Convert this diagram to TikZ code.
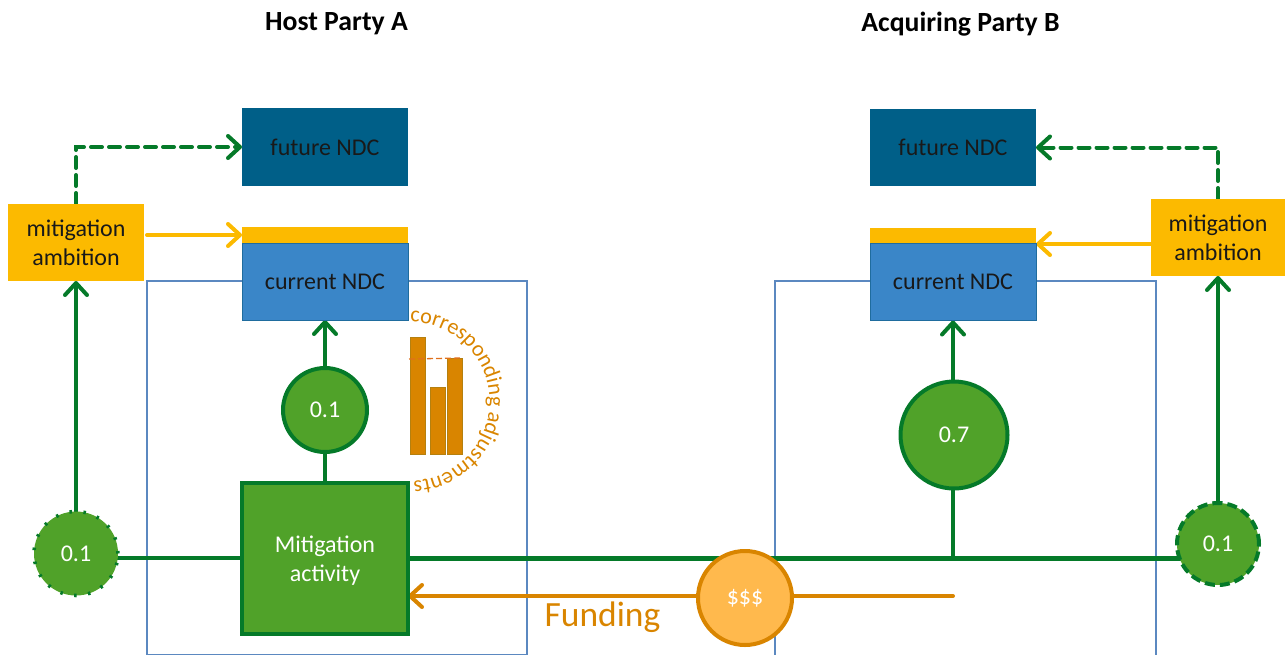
\documentclass[tikz,border=0pt]{standalone}
\usepackage{fontspec}
\setmainfont{Carlito}
\usetikzlibrary{arrows.meta,decorations.text}
\pgfdeclarelayer{bg}
\pgfsetlayers{bg,main}
\def\px{0.75pt}
\definecolor{gline}{HTML}{057A29}
\definecolor{gfill}{HTML}{50A229}
\definecolor{navy}{HTML}{005F88}
\definecolor{ndc}{HTML}{3A86C8}
\definecolor{ndcedge}{HTML}{1F6C9E}
\definecolor{ambit}{HTML}{FCBA00}
\definecolor{orng}{HTML}{D98500}
\definecolor{orngedge}{HTML}{B5800F}
\definecolor{money}{HTML}{FFB94D}
\definecolor{frameblue}{HTML}{5B88C0}
\definecolor{dashor}{HTML}{E0701C}
\tikzset{
  x=\px, y=-\px,
  lbl/.style={font=\fontsize{18pt}{20pt}\selectfont, align=center, inner sep=0pt, outer sep=0pt},
  ndcbox/.style={lbl, draw=ndcedge, line width=1*\px, fill=ndc, text=black!90, minimum width=166*\px, minimum height=77*\px},
  futurebox/.style={lbl, fill=navy, text=black!90, minimum width=166*\px, minimum height=77.5*\px},
  yellowbar/.style={fill=ambit, inner sep=0pt, outer sep=0pt, minimum width=166*\px, minimum height=16*\px},
  ambbox/.style={lbl, fill=ambit, text=black!90, minimum width=136*\px, minimum height=77*\px, font=\fontsize{18pt}{22pt}\selectfont},
  circ/.style={lbl, circle, fill=gfill, text=white, minimum size=2*#1*\px},
  solidc/.style={draw=gline, line width=4*\px},
  activitybox/.style={lbl, draw=gline, line width=4.5*\px, fill=gfill, text=white, minimum width=166*\px, minimum height=151*\px, font=\fontsize{18pt}{22pt}\selectfont},
  gl/.style={draw=gline, line width=4*\px},
  gthick/.style={draw=gline, line width=5*\px},
  arr/.style={-{Straight Barb[length=12*\px,width=22*\px,line width=4*\px,round]}, line cap=round},
  ol/.style={draw=orng, line width=4*\px},
  yl/.style={draw=ambit, line width=4*\px},
  dsh/.style={dash pattern=on 11*\px off 7*\px},
  frm/.style={draw=frameblue, line width=2*\px, outer sep=0pt, inner sep=0pt},
  barn/.style={fill=orng, draw=orngedge, line width=1*\px, inner sep=0pt, outer sep=0pt, minimum width=15*\px},
  titlelbl/.style={font=\fontsize{20.8pt}{24pt}\selectfont\bfseries, text=black, inner sep=0pt}
}
\begin{document}
\begin{tikzpicture}
\useasboundingbox (0,0) rectangle (1285,654);
\clip (0,0) rectangle (1285,654);
\node[titlelbl] (hosttitle) at (336.5,24) {Host Party A};
\node[titlelbl] (acqtitle) at (960.5,24) {Acquiring Party B};

\node[futurebox] (futA) at (325,147) {\raisebox{-1pt}{future NDC}};
\node[futurebox] (futB) at (953,147.5) {\raisebox{-1pt}{future NDC}};
\node[yellowbar] (barA) at (325,235) {};
\node[yellowbar] (barB) at (953,236) {};
\node[ndcbox] (curA) at (325,281.5) {\raisebox{-1pt}{current NDC}};
\node[ndcbox] (curB) at (953,282) {\raisebox{-1pt}{current NDC}};
\node[ambbox,text depth=0pt] (ambA) at (76,242.5) {mitigation\\ambition};
\node[ambbox,text depth=0pt,minimum width=134*\px] (ambB) at (1218,237.5) {mitigation\\ambition};
\node[circ=42,solidc] (cA) at (325,410) {\raisebox{-1pt}{0.1}};
\node[circ=53.5,solidc] (cB) at (954,435) {\raisebox{-1pt}{0.7}};
\node[activitybox,text depth=0pt] (act) at (325,558.5) {Mitigation\\activity};
\node[circ=42,draw=gline,line width=3.5*\px,dash pattern=on 2.5*\px off 11.5*\px] (cL) at (76,553.5) {\raisebox{-1pt}{0.1}};
\node[circ=41,draw=gline,line width=4*\px,dash pattern=on 10*\px off 5*\px] (cR) at (1218,544) {\raisebox{-1pt}{0.1}};
\node[circ=47,draw=orng,line width=4*\px,fill=money] (cash) at (745,598) {\$\$\$};
\node[lbl,text=orng,font=\fontsize{26.6pt}{28pt}\selectfont] (fund) at (602.5,617.5) {Funding};

\node[barn,minimum height=117*\px,anchor=south] (b1) at (417.5,454) {};
\node[barn,minimum height=67*\px,anchor=south] (b2) at (437.5,454) {};
\node[barn,minimum height=96*\px,anchor=south] (b3) at (455,454) {};

\coordinate (trunkL) at (0,558);
\coordinate (fundEnd) at (953,596);
\coordinate (leftyel) at (147,235);
\coordinate (dashL) at (409,359);

\begin{pgfonlayer}{bg}
  \node[frm,minimum width=380*\px,minimum height=373.5*\px,anchor=north west] (frameA) at (147,281) {};
  \node[frm,minimum width=381*\px,minimum height=374.5*\px,anchor=north west] (frameB) at (775,281) {};
  % trunk
  \draw[gl] (cL.center |- trunkL) -- (act.west |- trunkL);
  \draw[gthick] (act.east |- trunkL) -- (cR.center |- trunkL);
  \draw[gl] (act.north) -- (cA.south);
  \draw[gl,arr] (cA.north) -- (curA.south);
  \draw[gl] (curB.south |- trunkL) -- (curB.south |- cB.south);
  \draw[gl,arr] (curB.south |- cB.north) -- (curB.south);
  \draw[gl,arr] (cL.north) -- (ambA.south);
  \draw[gl,arr] (cR.north) -- (ambB.south);
  \draw[gl,dsh,arr] (ambA.north) |- (futA.west);
  \draw[gl,dsh,arr] (ambB.north) |- (futB.east);
  \draw[yl,arr] (leftyel) -- (barA.west);
  \draw[yl,arr] (ambB.west |- barB.south) -- (barB.south east);
  \draw[ol,line cap=round] (fundEnd) -- (cash.center |- fundEnd);
  \draw[ol,arr] (cash.center |- fundEnd) -- (act.east |- fundEnd);
\end{pgfonlayer}
\draw[draw=dashor,line width=1.3*\px,dash pattern=on 6*\px off 3*\px] (dashL) -- (b3.north east);
\path[decorate,decoration={text along path,
  text={|\fontsize{16.6pt}{19pt}\selectfont\color{orng}|corresponding adjustments}}]
  (410,322) arc[start angle=90,end angle=-90,radius=79.5*\px];
\end{tikzpicture}
\end{document}
